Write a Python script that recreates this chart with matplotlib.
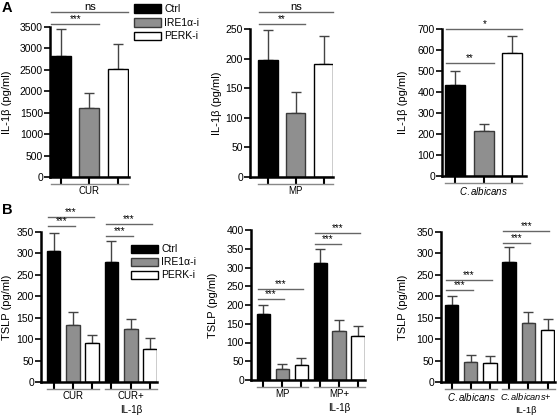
import numpy as np
import matplotlib.pyplot as plt
from matplotlib.patches import Patch
from matplotlib.transforms import offset_copy

plt.rcParams['font.family'] = ['Liberation Sans', 'DejaVu Sans']
plt.rcParams['mathtext.fontset'] = 'custom'
plt.rcParams['mathtext.rm'] = 'Liberation Sans'
plt.rcParams['mathtext.it'] = 'Liberation Sans:italic'

W, H = 558, 415

treatments = ['Ctrl', 'IRE1α-i', 'PERK-i']
colors = ['#000000', '#8f8f8f', '#ffffff']
edges = ['#000000', '#3a3a3a', '#000000']

# panel A: IL-1b
a_groups = ['CUR', 'MP', r'$\it{C.albicans}$']
a_mean = [[2820, 1600, 2520], [198, 108, 191], [432, 213, 585]]
a_err = [[640, 360, 580], [50, 35, 48], [70, 33, 82]]
a_ymax = [3500, 250, 700]
a_ystep = [500, 50, 100]
a_sig = [[(0, 1, 3570, '***'), (0, 2, 3850, 'ns')],
         [(0, 1, 258, '**'), (0, 2, 279, 'ns')],
         [(0, 1, 538, '**'), (0, 2, 700, '*')]]

# panel B: TSLP
b_groups = [['CUR', 'CUR+\nIL-1β'], ['MP', 'MP+\nIL-1β'],
            [r'$\it{C.albicans}$', r'$\it{C.albicans}$+' + '\nIL-1β']]
b_mean = [[305, 133, 90, 281, 123, 78],
          [175, 30, 40, 313, 130, 117],
          [180, 47, 44, 280, 137, 122]]
b_err = [[42, 30, 20, 48, 25, 25],
         [25, 12, 18, 37, 30, 26],
         [20, 17, 17, 34, 26, 24]]
b_ymax = [350, 400, 350]
b_sig = [[(0, 1, 364), (0, 2, 385), (3, 4, 340), (3, 5, 369)],
         [(0, 1, 216), (0, 2, 243), (3, 4, 363), (3, 5, 392)],
         [(0, 1, 215), (0, 2, 238), (3, 4, 324), (3, 5, 352)]]

# layout in pixels: (left, right, top, bottom), x padding in bar units, ylabel x
a_box = [(50, 129, 27, 177), (250, 333, 29, 177), (442, 526, 29, 176)]
a_pad = [(0.37, 0.38), (0.64, 0.34), (0.47, 0.48)]
a_ylab = [12, 222, 408]
b_box = [(41, 157, 232, 382), (251, 365, 230, 380), (441, 555, 232, 382)]
b_pad = [(0.65, 0.36), (0.66, 0.37), (0.55, 0.39)]
b_ylab = [12, 218, 408]

fig = plt.figure(figsize=(W / 100, H / 100), dpi=100)


def make_ax(box, pad, n, ymax, ystep, ylabel, ylab_x):
  l, r, t, b = box
  ax = fig.add_axes([l / W, 1 - b / H, (r - l) / W, (b - t) / H])
  ax.set_xlim(-pad[0], n - 1 + pad[1])
  ax.set_ylim(0, ymax)
  ax.set_yticks(np.arange(0, ymax + 1, ystep))
  ax.tick_params(axis='y', labelsize=7.5, length=4, width=1.2, pad=1)
  ax.set_xticks(np.arange(n))
  ax.set_xticklabels([])
  ax.tick_params(axis='x', length=5, width=1.5)
  for s in ['top', 'right']:
    ax.spines[s].set_visible(False)
  for s in ['left', 'bottom']:
    ax.spines[s].set_linewidth(1.8)
  ax.set_ylabel(ylabel, fontsize=8)
  ax.yaxis.set_label_coords((ylab_x - l) / (r - l), 0.5)
  return ax


def draw_bars(ax, mean, err):
  x = np.arange(len(mean))
  c = [colors[i % 3] for i in x]
  e = [edges[i % 3] for i in x]
  ax.bar(x, mean, width=0.7, color=c, edgecolor=e, linewidth=1, zorder=2)
  ax.errorbar(x, mean, yerr=[np.zeros(len(err)), err], fmt='none',
              ecolor='#444444', elinewidth=1, capsize=3.5, capthick=1, zorder=1)
  return x


def group_label(ax, x0, x1, label, fs=7, shift=0):
  tl = offset_copy(ax.get_xaxis_transform(), fig=fig, y=-7, units='dots')
  ax.plot([x0, x1], [0, 0], color='#888888', lw=1, transform=tl, clip_on=False)
  tt = offset_copy(ax.get_xaxis_transform(), fig=fig, x=shift, y=-9, units='dots')
  ax.text((x0 + x1) / 2, 0, label, transform=tt, ha='center', va='top',
          fontsize=fs, linespacing=1.5)


def sig(ax, x0, x1, y, text, fs):
  ax.plot([x0, x1], [y, y], color='#666666', lw=1, clip_on=False)
  ax.text((x0 + x1) / 2, y, text, ha='center', va='bottom', fontsize=fs,
          clip_on=False)


for k in range(3):
  ax = make_ax(a_box[k], a_pad[k], 3, a_ymax[k], a_ystep[k],
               'IL-1β (pg/ml)', a_ylab[k])
  draw_bars(ax, a_mean[k], a_err[k])
  group_label(ax, -0.35, 2.35, a_groups[k])
  for i, j, y, t in a_sig[k]:
    sig(ax, i - 0.32, j + 0.35, y, t, 8 if t == 'ns' else 7)

for k in range(3):
  ax = make_ax(b_box[k], b_pad[k], 6, b_ymax[k], 50,
               'TSLP (pg/ml)', b_ylab[k])
  draw_bars(ax, b_mean[k], b_err[k])
  for g in range(2):
    last = (k == 2 and g == 1)
    group_label(ax, 3 * g - 0.35, 3 * g + 2.38, b_groups[k][g],
                fs=6.7 if last else 7, shift=-3 if last else 0)
  for i, j, y in b_sig[k]:
    sig(ax, i - 0.3, j + 0.1, y, '***', 7)

handles = [Patch(facecolor=colors[i], edgecolor=edges[i], lw=1) for i in range(3)]
fig.legend(handles, treatments, loc='upper left', bbox_to_anchor=(130 / W, 1 - 0 / H),
           frameon=False, fontsize=7.5, handlelength=2.6, handleheight=0.9,
           labelspacing=0.35, handletextpad=0.3, borderaxespad=0)
fig.legend(handles, treatments, loc='upper left', bbox_to_anchor=(127 / W, 1 - 240 / H),
           frameon=False, fontsize=7.5, handlelength=2.6, handleheight=0.8,
           labelspacing=0.3, handletextpad=0.3, borderaxespad=0)

fig.text(2 / W, 1 - 1 / H, 'A', fontsize=10.5, fontweight='bold', va='top')
fig.text(2 / W, 1 - 203 / H, 'B', fontsize=10.5, fontweight='bold', va='top')

fig.savefig('out.png', dpi=100)
